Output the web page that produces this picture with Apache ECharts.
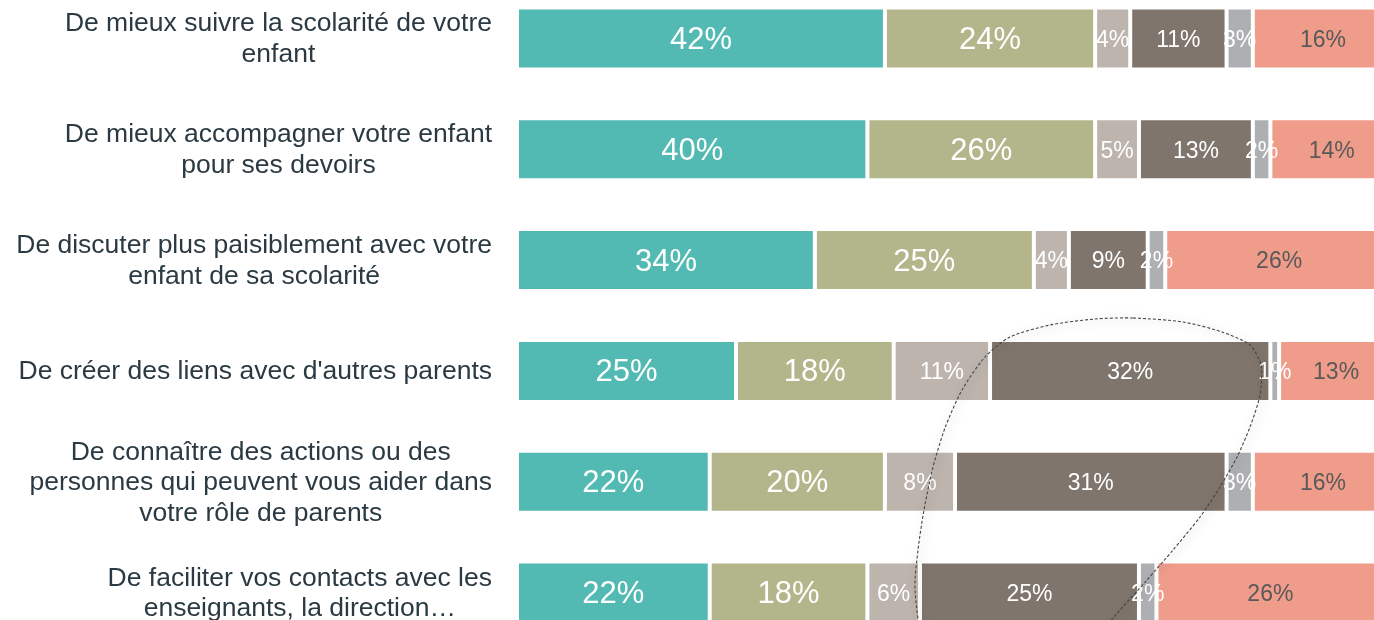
<!DOCTYPE html>
<html>
<head>
<meta charset="utf-8">
<title>Chart</title>
<script src="https://cdn.jsdelivr.net/npm/echarts@6/dist/echarts.min.js"></script>
<style>
  html, body { margin: 0; padding: 0; background: #fff; }
  #chart { width: 1374px; height: 620px; }
</style>
</head>
<body>
<div id="chart"></div>
<script>
const categories = [
  "De mieux suivre la scolarité de votre\nenfant",
  "De mieux accompagner votre enfant\npour ses devoirs",
  "De discuter plus paisiblement avec votre\nenfant de sa scolarité",
  "De créer des liens avec d'autres parents",
  "De connaître des actions ou des\npersonnes qui peuvent vous aider dans\nvotre rôle de parents",
  "De faciliter vos contacts avec les\nenseignants, la direction…"
];
const part1 = [42, 40, 34, 25, 22, 22];
const part2 = [24, 26, 25, 18, 20, 18];
const part3 = [4, 5, 4, 11, 8, 6];
const part4 = [11, 13, 9, 32, 31, 25];
const part5 = [3, 2, 2, 1, 3, 2];
const part6 = [16, 14, 26, 13, 16, 26];

const font = "Liberation Sans, Arial, sans-serif";

function makeSeries(name, data, color, labelColor, labelSize) {
  return {
    name: name,
    type: "bar",
    stack: "total",
    barWidth: 62,
    data: data,
    itemStyle: { color: color, borderColor: "#fff", borderWidth: 2 },
    label: {
      show: true,
      position: "inside",
      offset: [0, 2],
      formatter: "{c}%",
      color: labelColor,
      fontSize: labelSize,
      fontFamily: font,
      textBorderWidth: 0
    }
  };
}

const chart = echarts.init(document.getElementById("chart"));

chart.setOption({
  animation: false,
  grid: {
    left: 517,
    top: -17,
    width: 876,
    height: 665,
    outerBoundsMode: "none"
  },
  xAxis: { type: "value", min: 0, max: 100, show: false },
  yAxis: {
    type: "category",
    data: categories,
    inverse: true,
    axisLine: { show: false },
    axisTick: { show: false },
    axisLabel: {
      margin: 25,
      color: "#2b3a42",
      fontSize: 26.5,
      fontFamily: font,
      lineHeight: 30.5,
      // each line centred inside a right-aligned block
      formatter: function (v) {
        return v.split("\n").map(function (l) { return "{c|" + l + "}"; }).join("\n");
      },
      rich: {
        c: { align: "center", color: "#2b3a42", fontSize: 26.5, lineHeight: 30.5, fontFamily: font, padding: [2, 0, 0, 0] }
      }
    }
  },
  series: [
    makeSeries("p1", part1, "#53bab3", "#fff", 31),
    makeSeries("p2", part2, "#b3b68b", "#fff", 31),
    makeSeries("p3", part3, "#beb4ae", "#fff", 23),
    makeSeries("p4", part4, "#7f756c", "#fff", 23),
    makeSeries("p5", part5, "#aeafb3", "#fff", 23),
    makeSeries("p6", part6, "#ef9c8a", "#595959", 23)
  ],
  // hand-drawn dashed loop around the dark segments
  graphic: [{
    type: "polygon",
    z: 100,
    silent: true,
    shape: {
      smooth: 0.25,
      points: [
        [1133, 318], [1183, 322], [1222, 332], [1250, 345], [1261, 365],
        [1260, 395], [1250, 427], [1237, 457], [1220, 487], [1200, 517],
        [1173, 550], [1147, 580], [1120, 610], [1085, 650], [1035, 690],
        [968, 690], [925, 645], [915, 590], [918, 550], [924, 510],
        [933, 467], [945, 428], [962, 390], [985, 357], [1010, 337],
        [1050, 325], [1095, 319]
      ]
    },
    style: {
      fill: null,
      stroke: "#444",
      lineWidth: 1.1,
      lineDash: [3, 2],
      shadowBlur: 10,
      shadowOffsetX: 2,
      shadowOffsetY: 2,
      shadowColor: "rgba(0,0,0,0.4)"
    }
  }]
});
</script>
</body>
</html>
